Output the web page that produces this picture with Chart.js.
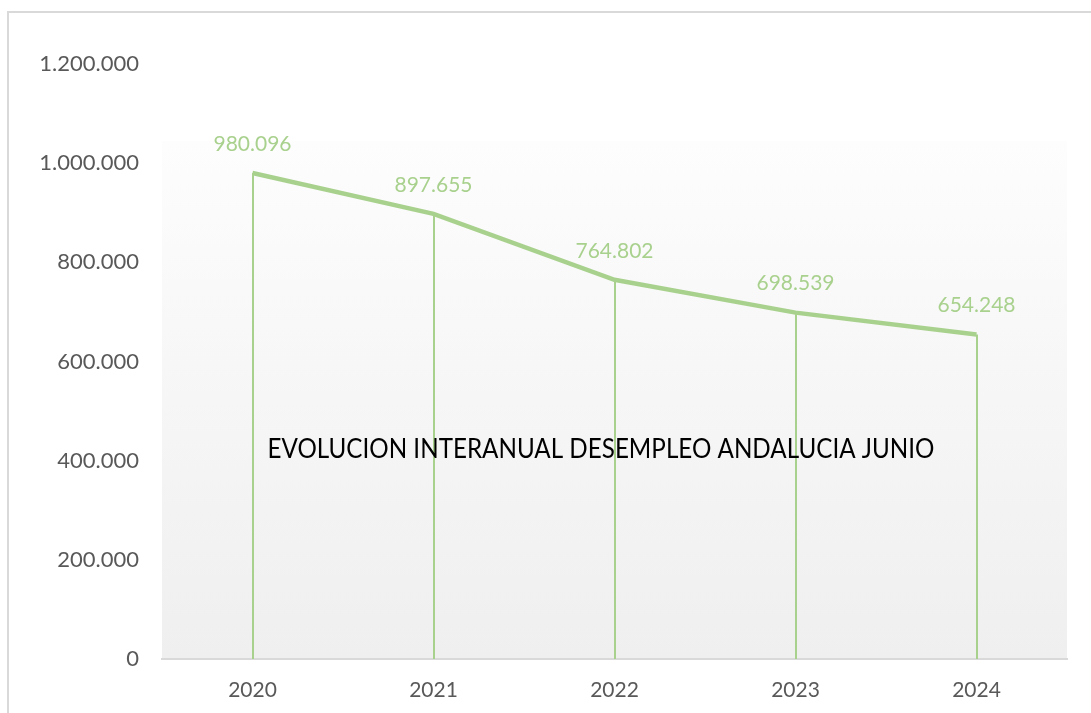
<!DOCTYPE html>
<html>
<head>
<meta charset="utf-8">
<script src="https://cdn.jsdelivr.net/npm/chart.js@4/dist/chart.umd.min.js"></script>
<style>
  html, body { margin: 0; padding: 0; background: #fff; }
  #wrap { position: absolute; left: 0; top: 0; width: 1091px; height: 713px; }
</style>
</head>
<body>
<div id="wrap"><canvas id="paroChart"></canvas></div>
<script>
const years = ['2020', '2021', '2022', '2023', '2024'];
const paro = [980096, 897655, 764802, 698539, 654248];
const yTicks = [0, 200000, 400000, 600000, 800000, 1000000, 1200000];
const chartTitle = 'EVOLUCION INTERANUAL DESEMPLEO ANDALUCIA JUNIO';

const GREEN = '#a9d18e';
const FONT = 'Lato, "Open Sans", sans-serif';

function fmt(n) {
   return String(n).replace(/\B(?=(\d{3})+(?!\d))/g, '.');
}

// frame, plot background, drop lines, data labels and the title
const extras = {
   id: 'extras',
   beforeDraw: function (chart) {
      const ctx = chart.ctx;
      const a = chart.chartArea;
      ctx.save();
      ctx.strokeStyle = '#d9d9d9';
      ctx.lineWidth = 2;
      ctx.strokeRect(8, 12, 1200, 1000);
      const top = 141;
      const g = ctx.createLinearGradient(0, top, 0, a.bottom);
      g.addColorStop(0, '#fdfdfd');
      g.addColorStop(1, '#efefef');
      ctx.fillStyle = g;
      ctx.fillRect(a.left, top, a.right - a.left, a.bottom - top);
      ctx.restore();
   },
   beforeDatasetsDraw: function (chart) {
      const ctx = chart.ctx;
      const a = chart.chartArea;
      const meta = chart.getDatasetMeta(0);
      ctx.save();
      ctx.strokeStyle = GREEN;
      ctx.lineWidth = 2;
      meta.data.forEach(function (p) {
         ctx.beginPath();
         ctx.moveTo(Math.round(p.x), p.y);
         ctx.lineTo(Math.round(p.x), a.bottom);
         ctx.stroke();
      });
      ctx.restore();
   },
   afterDatasetsDraw: function (chart) {
      const ctx = chart.ctx;
      const meta = chart.getDatasetMeta(0);
      ctx.save();
      ctx.fillStyle = GREEN;
      ctx.font = '21px ' + FONT;
      ctx.textAlign = 'center';
      ctx.textBaseline = 'middle';
      meta.data.forEach(function (p, i) {
         ctx.fillText(fmt(paro[i]), p.x, p.y - 29);
      });
      ctx.fillStyle = '#000';
      ctx.font = '26px ' + FONT;
      ctx.fillText(chartTitle, 601, 450, 667);
      ctx.restore();
   }
};

const ctx1 = document.getElementById('paroChart');
new Chart(ctx1, {
   type: 'line',
   data: {
      labels: years,
      datasets: [{
         data: paro,
         borderColor: GREEN,
         borderWidth: 4.5,
         pointRadius: 0,
         tension: 0,
         fill: false
      }]
   },
   options: {
      responsive: true,
      maintainAspectRatio: false,
      animation: false,
      layout: { padding: { left: 0, top: 64, right: 24, bottom: 0 } },
      plugins: { legend: { display: false }, tooltip: { enabled: false } },
      scales: {
         x: {
            offset: true,
            grid: { display: false, drawTicks: false },
            border: { display: true, color: '#d9d9d9', width: 2 },
            ticks: { color: '#595959', font: { family: FONT, size: 21 }, padding: 19 },
            afterFit: function (s) { s.height = 54; }
         },
         y: {
            min: 0,
            max: 1200000,
            grid: { display: false, drawTicks: false },
            border: { display: false },
            afterBuildTicks: function (s) { s.ticks = yTicks.map(function (v) { return { value: v }; }); },
            ticks: {
               color: '#595959',
               font: { family: FONT, size: 22 },
               padding: 23,
               callback: function (v) { return fmt(v); }
            },
            afterFit: function (s) { s.width = 162; }
         }
      }
   },
   plugins: [extras]
});
</script>
</body>
</html>
